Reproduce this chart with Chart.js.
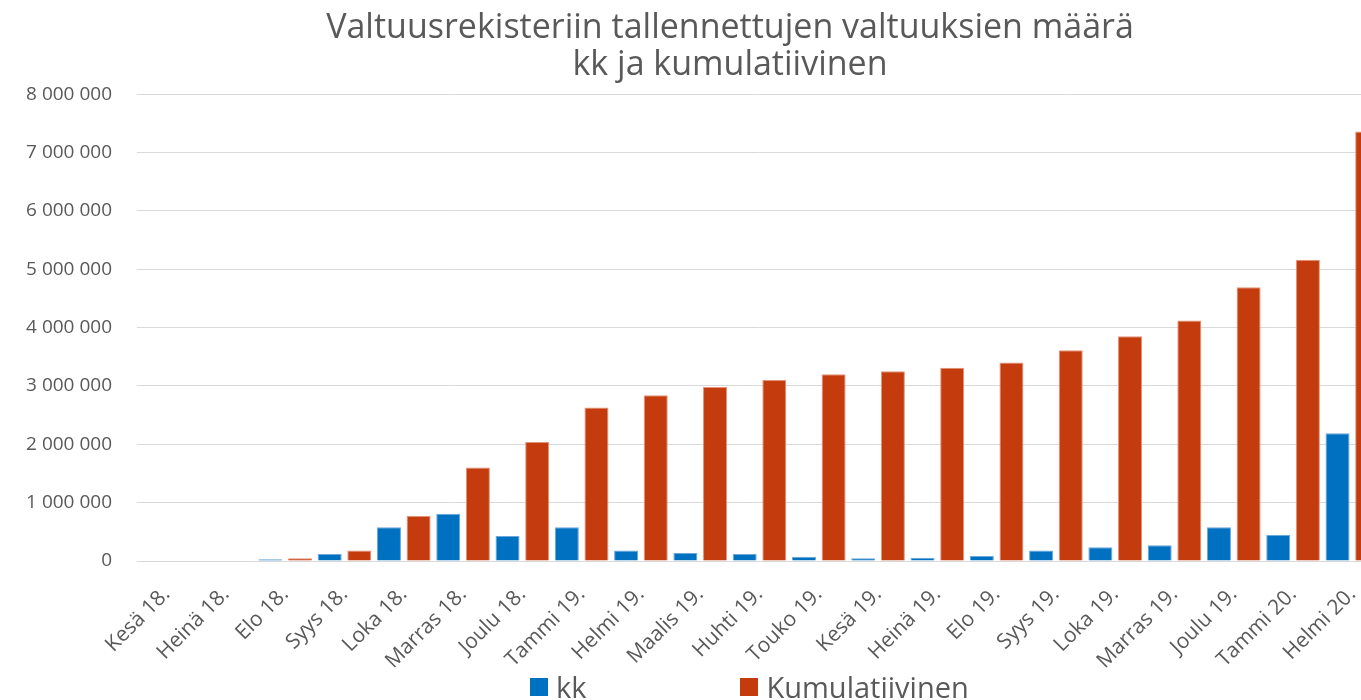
<!DOCTYPE html>
<html lang="fi">
<head>
<meta charset="utf-8">
<title>Valtuusrekisteri</title>
<script src="https://cdn.jsdelivr.net/npm/chart.js@4/dist/chart.umd.min.js"></script>
<style>
  body { margin: 0; overflow: hidden; background: #fff; }
  #kehys { position: relative; width: 1460px; height: 700px; }
  #selite {
    position: absolute; left: 530px; top: 667px;
    display: flex; align-items: center;
    font-family: "Open Sans", sans-serif; font-size: 29px; color: #595959;
  }
  #selite .kohta { display: flex; align-items: center; }
  #selite .laatikko { width: 18px; height: 18px; margin-right: 8px; }
</style>
</head>
<body>
<div id="kehys">
  <canvas id="valtuudet" width="1460" height="700"></canvas>
  <div id="selite"></div>
</div>
<script>
const kuukaudet = [
  "Kesä 18.", "Heinä 18.", "Elo 18.", "Syys 18.", "Loka 18.", "Marras 18.", "Joulu 18.",
  "Tammi 19.", "Helmi 19.", "Maalis 19.", "Huhti 19.", "Touko 19.", "Kesä 19.", "Heinä 19.",
  "Elo 19.", "Syys 19.", "Loka 19.", "Marras 19.", "Joulu 19.", "Tammi 20.", "Helmi 20."
];

const kk = [
  0, 0, 30000, 120000, 580000, 810000, 430000,
  580000, 180000, 137000, 120000, 74000, 46000, 57000,
  86000, 180000, 235000, 270000, 580000, 450000, 2190000
];

const kumulatiivinen = [
  0, 0, 45000, 180000, 770000, 1600000, 2040000,
  2630000, 2840000, 2980000, 3100000, 3200000, 3250000, 3310000,
  3400000, 3610000, 3850000, 4120000, 4690000, 5160000, 7360000
];

const otsikko = ["Valtuusrekisteriin tallennettujen valtuuksien määrä", "kk ja kumulatiivinen"];

const harmaa = "#595959";
const fontti = "'Open Sans', sans-serif";

function muotoile(arvo) {
  return String(arvo).replace(/\B(?=(\d{3})+(?!\d))/g, " ");
}

const kaavio = new Chart(document.getElementById("valtuudet"), {
  type: "bar",
  data: {
    labels: kuukaudet,
    datasets: [
      {
        label: "kk",
        data: kk,
        backgroundColor: "#0070c0",
        borderColor: "#6aa7dc",
        borderWidth: 1
      },
      {
        label: "Kumulatiivinen",
        data: kumulatiivinen,
        backgroundColor: "#c43b0e",
        borderColor: "#e39478",
        borderWidth: 1
      }
    ]
  },
  options: {
    responsive: false,
    animation: false,
    barPercentage: 0.81,
    categoryPercentage: 1.0,
    layout: { padding: 0 },
    plugins: {
      legend: { display: false },
      tooltip: { enabled: false },
      title: {
        display: true,
        text: otsikko,
        color: harmaa,
        font: { family: fontti, size: 34, weight: "normal", lineHeight: 1.09 },
        padding: { top: 10, bottom: 10 }
      }
    },
    scales: {
      x: {
        grid: { display: false },
        border: { color: "#d9d9d9" },
        ticks: {
          color: harmaa,
          font: { family: fontti, size: 21 },
          minRotation: 45,
          maxRotation: 45,
          autoSkip: false,
          padding: 13
        },
        afterFit: s => { s.height = 139; }
      },
      y: {
        min: 0,
        max: 8000000,
        border: { display: false },
        grid: { color: "#d9d9d9", drawTicks: false },
        ticks: {
          stepSize: 1000000,
          color: harmaa,
          font: { family: fontti, size: 19 },
          padding: 25,
          callback: v => muotoile(v)
        },
        afterFit: s => { s.width = 137; }
      },
      // tyhjä akseli oikealle, jotta kuvaaja jatkuu kuvan reunan yli
      oikea: {
        position: "right",
        grid: { display: false },
        border: { display: false },
        ticks: { display: false },
        afterFit: s => { s.width = 78; }
      }
    }
  }
});

// Selite HTML:nä, jotta kohtien väli saadaan kuten alkuperäisessä
const selite = document.getElementById("selite");
kaavio.data.datasets.forEach((ds, i) => {
  const kohta = document.createElement("div");
  kohta.className = "kohta";
  if (i === 0) kohta.style.marginRight = "154px";
  kohta.innerHTML = `<span class="laatikko" style="background:${ds.backgroundColor}"></span><span>${ds.label}</span>`;
  selite.appendChild(kohta);
});
</script>
</body>
</html>
